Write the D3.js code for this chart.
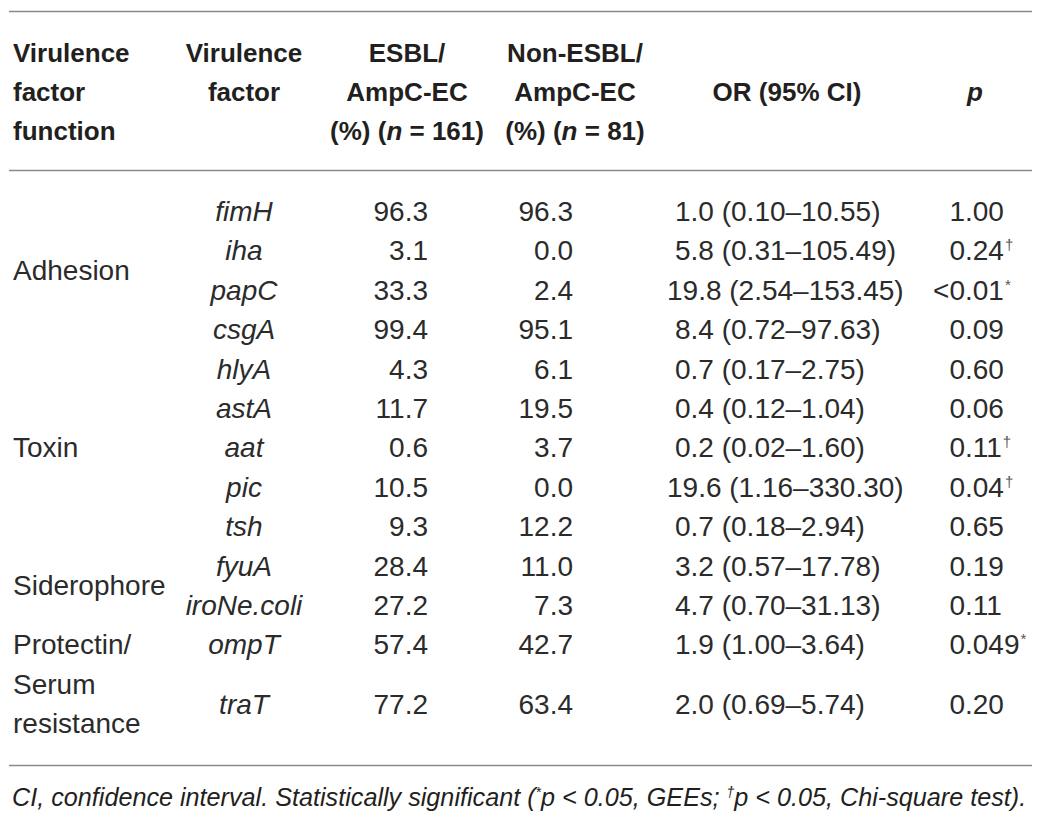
<!DOCTYPE html>
<html>
<head>
<meta charset="utf-8">
<script src="https://cdn.jsdelivr.net/npm/d3@7"></script>
<style>
  body { margin: 0; background: #fff; }
  svg { display: block; }
</style>
</head>
<body>
<div id="table"></div>
<script>
// table contents, row by row
const virulenceFactors = ["fimH", "iha", "papC", "csgA", "hlyA", "astA", "aat", "pic", "tsh", "fyuA", "iroNe.coli", "ompT", "traT"];
const factorFunction = ["Adhesion", "Adhesion", "Adhesion", "Adhesion", "Toxin", "Toxin", "Toxin", "Toxin", "Toxin", "Siderophore", "Siderophore", "Protectin", "Protectin"];
const functionLabels = {
  Adhesion: ["Adhesion"],
  Toxin: ["Toxin"],
  Siderophore: ["Siderophore"],
  Protectin: ["Protectin/", "Serum", "resistance"]
};
const esblPct = ["96.3", "3.1", "33.3", "99.4", "4.3", "11.7", "0.6", "10.5", "9.3", "28.4", "27.2", "57.4", "77.2"];
const nonEsblPct = ["96.3", "0.0", "2.4", "95.1", "6.1", "19.5", "3.7", "0.0", "12.2", "11.0", "7.3", "42.7", "63.4"];
const oddsRatio = ["1.0", "5.8", "19.8", "8.4", "0.7", "0.4", "0.2", "19.6", "0.7", "3.2", "4.7", "1.9", "2.0"];
const ciLow = ["0.10", "0.31", "2.54", "0.72", "0.17", "0.12", "0.02", "1.16", "0.18", "0.57", "0.70", "1.00", "0.69"];
const ciHigh = ["10.55", "105.49", "153.45", "97.63", "2.75", "1.04", "1.60", "330.30", "2.94", "17.78", "31.13", "3.64", "5.74"];
const pValues = ["1.00", "0.24", "<0.01", "0.09", "0.60", "0.06", "0.11", "0.04", "0.65", "0.19", "0.11", "0.049", "0.20"];
const pMarks = ["", "†", "*", "", "", "", "†", "†", "", "", "", "*", ""];

const WIDTH = 1041, HEIGHT = 822;
const INK = "#231f20";
const BODY_INK = "#2b2b2b";
const RULE = "#8a8a8a";
const BODY_FONT = "'Liberation Sans', Arial, Helvetica, sans-serif";

const svg = d3.select("#table").append("svg")
  .attr("width", WIDTH)
  .attr("height", HEIGHT)
  .style("font-family", BODY_FONT);

// column anchors
const COL = { func: 13, factor: 244, esbl: 428, nonEsbl: 573, or: 675, p: 965 };

// horizontal rules
[11.5, 170.5, 765.5].forEach((y) => {
  svg.append("line")
    .attr("x1", 9).attr("x2", 1032)
    .attr("y1", y).attr("y2", y)
    .attr("stroke", RULE)
    .attr("stroke-width", 1.6);
});

// header
const headY = d3.scaleLinear().domain([0, 1]).range([62, 101]);
const header = svg.append("g")
  .attr("font-size", 26)
  .attr("font-weight", "bold")
  .attr("fill", INK);

const headCells = [
  { x: COL.func, anchor: "start", lines: [["Virulence"], ["factor"], ["function"]], start: 0 },
  { x: COL.factor, anchor: "middle", lines: [["Virulence"], ["factor"]], start: 0 },
  { x: 407, anchor: "middle", lines: [["ESBL/"], ["AmpC-EC"], ["(%) (", "n", " = 161)"]], start: 0 },
  { x: 575, anchor: "middle", lines: [["Non-ESBL/"], ["AmpC-EC"], ["(%) (", "n", " = 81)"]], start: 0 },
  { x: 787, anchor: "middle", lines: [["OR (95% CI)"]], start: 1 },
  { x: 975, anchor: "middle", lines: [["", "p"]], start: 1 }
];

headCells.forEach((cell) => {
  cell.lines.forEach((parts, i) => {
    const t = header.append("text")
      .attr("x", cell.x)
      .attr("y", headY(cell.start + i))
      .attr("text-anchor", cell.anchor);
    parts.forEach((part, j) => {
      if (part === "") return;
      t.append("tspan")
        .attr("font-style", j % 2 === 1 ? "italic" : "normal")
        .text(part);
    });
  });
});

// work out which line slot each row and group label sits on
const rowSlot = [];
const labelSlots = [];
let slot = 0;
d3.groups(virulenceFactors.map((f, i) => i), (i) => factorFunction[i]).forEach(([fn, idx]) => {
  const lines = functionLabels[fn];
  const span = Math.max(idx.length, lines.length);
  idx.forEach((rowIdx, k) => {
    if (k < idx.length - 1) rowSlot[rowIdx] = slot + k;
    else rowSlot[rowIdx] = slot + (idx.length - 1) + (span - idx.length) / 2;
  });
  const first = slot + Math.max(0, (idx.length - lines.length) / 2);
  lines.forEach((line, k) => labelSlots.push({ text: line, slot: first + k }));
  slot += span;
});

const rowY = d3.scaleLinear().domain([0, 1]).range([221, 260.4]);

const body = svg.append("g")
  .attr("font-size", 28)
  .attr("fill", BODY_INK);

body.selectAll(".func")
  .data(labelSlots)
  .join("text")
  .attr("class", "func")
  .attr("x", COL.func)
  .attr("y", (d) => rowY(d.slot))
  .text((d) => d.text);

const rows = body.selectAll(".row")
  .data(virulenceFactors.map((f, i) => i))
  .join("g")
  .attr("class", "row")
  .attr("transform", (i) => `translate(0, ${rowY(rowSlot[i])})`);

rows.append("text")
  .attr("x", COL.factor)
  .attr("text-anchor", "middle")
  .attr("font-style", "italic")
  .text((i) => virulenceFactors[i]);

rows.append("text")
  .attr("x", COL.esbl)
  .attr("text-anchor", "end")
  .text((i) => esblPct[i]);

rows.append("text")
  .attr("x", COL.nonEsbl)
  .attr("text-anchor", "end")
  .text((i) => nonEsblPct[i]);

rows.append("text")
  .attr("x", (i) => COL.or - (oddsRatio[i].split(".")[0].length - 1) * 8)
  .text((i) => `${oddsRatio[i]} (${ciLow[i]}–${ciHigh[i]})`);

// p values lined up on the decimal point, marks set small and raised
rows.each(function (i) {
  const g = d3.select(this);
  const t = g.append("text").attr("x", COL.p).text(pValues[i]);
  const dot = pValues[i].indexOf(".");
  const pre = t.node().getSubStringLength(0, dot);
  t.attr("x", COL.p - pre);
  if (pMarks[i]) {
    const w = t.node().getComputedTextLength();
    g.append("text")
      .attr("x", COL.p - pre + w + 1)
      .attr("y", -10)
      .attr("font-size", 15)
      .attr("fill", "#555")
      .text(pMarks[i]);
  }
});

// footnote
const note = svg.append("text")
  .attr("x", 12)
  .attr("y", 806)
  .attr("font-family", "'Liberation Sans Narrow', 'Liberation Sans', sans-serif")
  .attr("font-style", "italic")
  .attr("font-size", 25.2)
  .attr("fill", INK);
note.append("tspan").text("CI, confidence interval. Statistically significant (");
note.append("tspan").attr("font-size", 14).attr("dy", -9).text("*");
note.append("tspan").attr("dy", 9).text("p < 0.05, GEEs; ");
note.append("tspan").attr("font-size", 14).attr("dy", -9).text("†");
note.append("tspan").attr("dy", 9).text("p < 0.05, Chi-square test).");
</script>
</body>
</html>
